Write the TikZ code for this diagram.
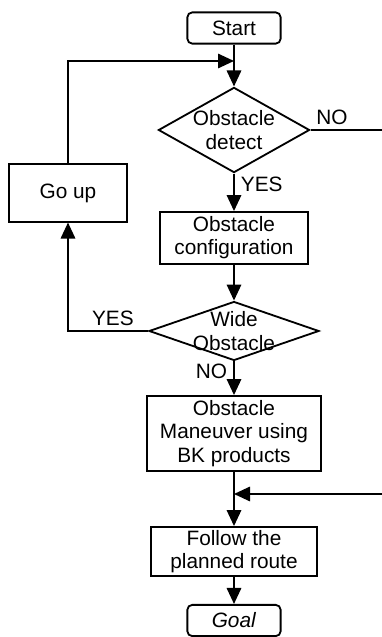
\documentclass[tikz,border=0pt]{standalone}
\usepackage{fontspec}
\setmainfont{Liberation Sans}
\usetikzlibrary{shapes.geometric}
\usetikzlibrary{arrows.meta}

\begin{document}
\begin{tikzpicture}[
  every node/.style={font=\fontsize{14.8}{16.5}\selectfont,align=center},
  termbox/.style={draw,line width=1.3pt,rounded corners=0.12cm,minimum width=2.33cm,minimum height=0.78cm,inner sep=0pt},
  procbox/.style={draw,line width=1.3pt,inner sep=0pt},
  decbox/.style={draw,line width=1.3pt,diamond,inner sep=0pt},
  flow/.style={line width=1.4pt,-{Triangle[length=0.4cm,width=0.36cm]}},
  plain/.style={line width=1.4pt}
]
\useasboundingbox (0,0) rectangle (9.55,15.925);

\node[termbox] (start) at (5.85,15.225) {Start};
\node[decbox,minimum width=3.78cm,minimum height=2.13cm,label=center:{Obstacle\\detect}] (detect) at (5.85,12.675) {};
\node[procbox,minimum width=2.95cm,minimum height=1.43cm] (goup) at (1.7,11.1) {Go up};
\node[procbox,minimum width=3.68cm,minimum height=1.3cm] (config) at (5.85,9.975) {Obstacle\\configuration};
\node[decbox,minimum width=4.25cm,minimum height=1.475cm,label=center:{Wide\\Obstacle}] (wide) at (5.85,7.65) {};
\node[procbox,minimum width=4.33cm,minimum height=1.875cm] (maneuver) at (5.85,5.0875) {Obstacle\\Maneuver using\\BK products};
\node[procbox,minimum width=4.15cm,minimum height=1.225cm] (follow) at (5.85,2.1375) {Follow the\\planned route};
\node[termbox] (goal) at (5.85,0.4125) {\textit{Goal}};

\coordinate (join1) at (5.85,14.4);
\coordinate (join2) at (5.85,3.575);
\coordinate (rightA) at (9.55,12.675);
\coordinate (rightB) at (9.55,3.575);

\draw[plain] (start) -- (join1);
\draw[flow] (join1) -- (detect.north);
\draw[flow] (goup.north) |- (join1);
\draw[plain] (detect.east) -- (rightA) node[pos=0.3,above] (nodetect) {NO};
\draw[flow] (detect.south) -- (config) node[pos=0.3,right,inner sep=0.15cm] (yesdetect) {YES};
\draw[flow] (config) -- (wide.north);
\draw[flow] (wide.west) -| (goup.south) node[pos=0.22,above] (yeswide) {YES};
\draw[flow] (wide.south) -- (maneuver) node[pos=0.3,left,inner sep=0.15cm] (nowide) {NO};
\draw[plain] (maneuver) -- (join2);
\draw[flow] (join2) -- (follow);
\draw[flow] (rightB) -- (join2);
\draw[flow] (follow) -- (goal);

\end{tikzpicture}
\end{document}
